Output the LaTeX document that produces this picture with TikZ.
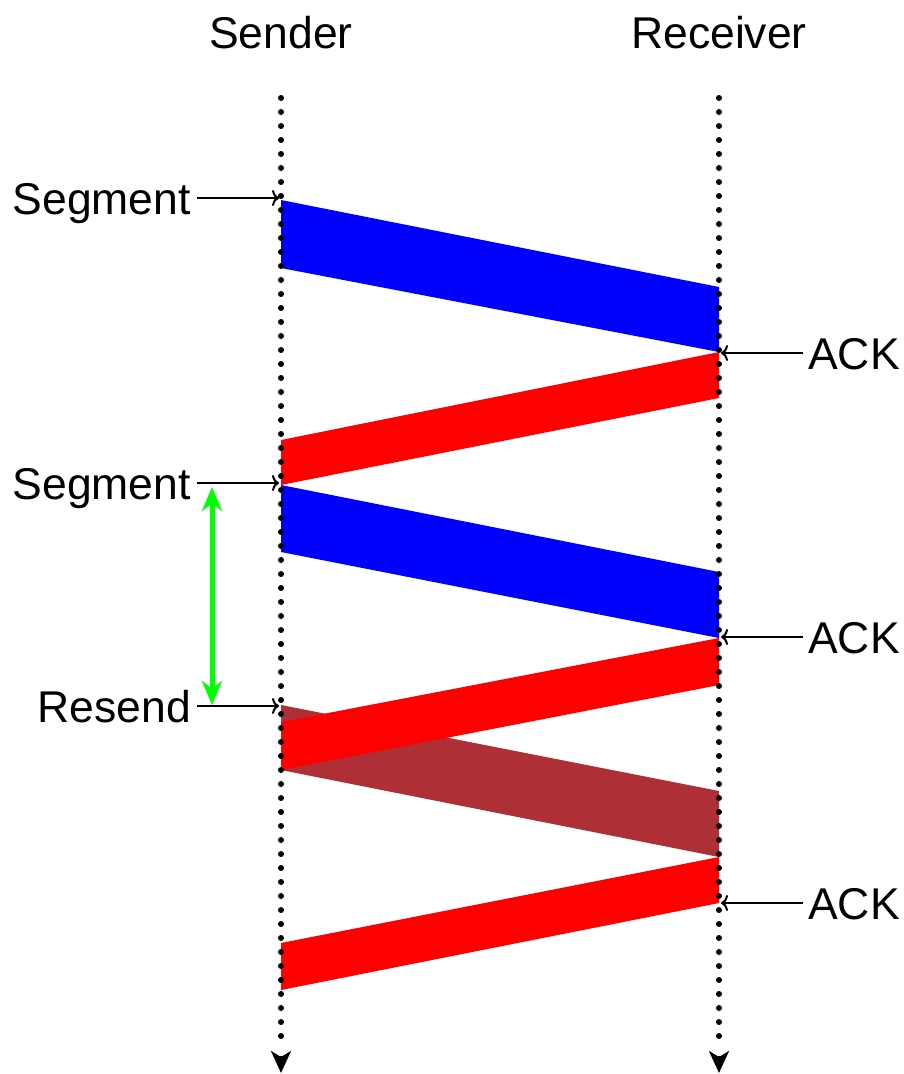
\documentclass[tikz,border=0pt]{standalone}
\usepackage{fontspec}
\setmainfont{Liberation Sans}
\usetikzlibrary{arrows.meta}
\definecolor{brownband}{RGB}{174,48,54}
\begin{document}
\begin{tikzpicture}[x=1pt,y=-1pt,
  txt/.style={font=\fontsize{44.5}{50}\selectfont, inner sep=0pt, text height=32pt, text depth=0pt},
  timeline/.style={line width=6pt, dash pattern=on 0pt off 14pt, line cap=round},
  tlhead/.style={-{Stealth[length=22pt,width=20pt,inset=6pt]}, line width=3pt},
  lbl/.style={line width=2pt, -{To[length=7pt,width=16pt]}},
  band/.style={draw=none}
]
\useasboundingbox (0,0) rectangle (904,1074);
% titles
\node[txt] (sender) at (281,32) {Sender};
\node[txt] (receiver) at (719,32) {Receiver};
% time line coordinates
\coordinate (st) at (281,98);
\coordinate (sb) at (281,1042);
\coordinate (se) at (281,1073);
\coordinate (rt) at (719,98);
\coordinate (rb) at (719,1042);
\coordinate (re) at (719,1073);
% bands
\fill[blue] (281,200) -- (719,287) -- (719,352) -- (281,268) -- cycle;
\fill[red] (719,352) -- (719,398) -- (281,485) -- (281,440) -- cycle;
\fill[blue] (281,485) -- (719,572) -- (719,638) -- (281,552) -- cycle;
\fill[brownband] (281,705) -- (719,791) -- (719,857) -- (281,770) -- cycle;
\fill[red] (719,638) -- (719,685) -- (281,770) -- (281,722) -- cycle;
\fill[red] (719,857) -- (719,903) -- (281,990) -- (281,943) -- cycle;
% time lines
\draw[timeline] (st) -- (sb);
\draw[timeline] (rt) -- (rb);
\draw[tlhead] (281,1056) -- (se);
\draw[tlhead] (719,1056) -- (re);
% labels
\coordinate (s1) at (279,198);
\coordinate (s2) at (279,483);
\coordinate (s3) at (279,706);
\coordinate (a1) at (721,353);
\coordinate (a2) at (721,637);
\coordinate (a3) at (721,903);
\node[txt, anchor=east] (seg1) at (191,198) {Segment};
\node[txt, anchor=east] (seg2) at (191,483) {Segment};
\node[txt, anchor=east] (res) at (191,706) {Resend};
\node[txt, anchor=west] (ack1) at (808,353) {ACK};
\node[txt, anchor=west] (ack2) at (808,637) {ACK};
\node[txt, anchor=west] (ack3) at (808,903) {ACK};
\draw[lbl] ([xshift=6pt]seg1.east) -- (s1);
\draw[lbl] ([xshift=6pt]seg2.east) -- (s2);
\draw[lbl] ([xshift=6pt]res.east) -- (s3);
\draw[lbl] ([xshift=-5pt]ack1.west) -- (a1);
\draw[lbl] ([xshift=-5pt]ack2.west) -- (a2);
\draw[lbl] ([xshift=-5pt]ack3.west) -- (a3);
% timeout arrow
\coordinate (g1) at (212,487);
\coordinate (g2) at (212,705);
\draw[green, line width=5pt, {Stealth[length=24pt,width=20pt]}-{Stealth[length=24pt,width=20pt]}] (g1) -- (g2);
\end{tikzpicture}
\end{document}
